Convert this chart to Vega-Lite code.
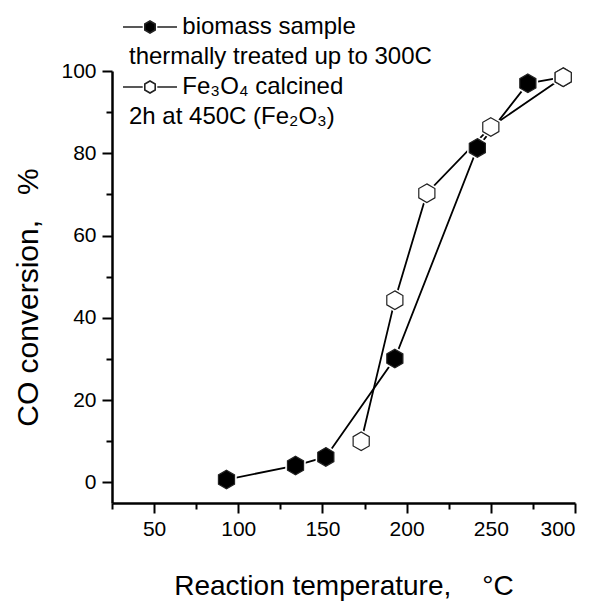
{
  "$schema": "https://vega.github.io/schema/vega-lite/v6.json",
  "width": 463,
  "height": 432,
  "autosize": {"type": "none"},
  "padding": {"left": 112, "top": 71, "right": 20, "bottom": 98},
  "background": "white",
  "data": {
    "values": [
      {"series": "biomass", "temp": 93, "conv": 0.7},
      {"series": "biomass", "temp": 134, "conv": 4.1},
      {"series": "biomass", "temp": 152, "conv": 6.2},
      {"series": "biomass", "temp": 193, "conv": 30.1},
      {"series": "biomass", "temp": 242, "conv": 81.3},
      {"series": "biomass", "temp": 272, "conv": 97.0},
      {"series": "biomass", "temp": 293, "conv": 98.5},
      {"series": "Fe3O4", "temp": 173, "conv": 10.0},
      {"series": "Fe3O4", "temp": 193, "conv": 44.3},
      {"series": "Fe3O4", "temp": 212, "conv": 70.3},
      {"series": "Fe3O4", "temp": 250, "conv": 86.4},
      {"series": "Fe3O4", "temp": 293, "conv": 98.5}
    ]
  },
  "layer": [
    {
      "mark": {"type": "line", "color": "black", "strokeWidth": 1.8},
      "encoding": {
        "x": {
          "field": "temp", "type": "quantitative",
          "scale": {"domain": [25, 300], "nice": false, "zero": false},
          "axis": {"orient": "bottom", "values": [50, 100, 150, 200, 250, 300], "title": "Reaction temperature,\u00a0\u00a0\u00a0\u00a0°C", "tickSize": 10, "labelPadding": 5, "titlePadding": 33}
        },
        "y": {
          "field": "conv", "type": "quantitative",
          "scale": {"domain": [-5, 100], "nice": false, "zero": false},
          "axis": {"orient": "left", "values": [0, 20, 40, 60, 80, 100], "title": "CO conversion,\u00a0\u00a0\u00a0%", "titleFontSize": 30, "titleY": 226, "tickSize": 10, "labelPadding": 6, "titlePadding": 17}
        },
        "detail": {"field": "series", "type": "nominal"}
      }
    },
    {
      "mark": {"type": "point", "shape": "M0,-1L0.866,-0.5L0.866,0.5L0,1L-0.866,0.5L-0.866,-0.5Z", "size": 560, "filled": true, "fill": "white", "opacity": 1, "strokeWidth": 0},
      "encoding": {
        "x": {"field": "temp", "type": "quantitative", "axis": {"orient": "bottom", "values": [25, 75, 125, 175, 225, 275], "labels": false, "domain": false, "title": null, "tickSize": 6}},
        "y": {"field": "conv", "type": "quantitative", "axis": {"orient": "left", "values": [10, 30, 50, 70, 90], "labels": false, "domain": false, "title": null, "tickSize": 6}}
      }
    },
    {
      "mark": {"type": "point", "shape": "M0,-1L0.866,-0.5L0.866,0.5L0,1L-0.866,0.5L-0.866,-0.5Z", "size": 346, "filled": true, "opacity": 1, "stroke": "#222", "strokeWidth": 1.2},
      "encoding": {
        "x": {"field": "temp", "type": "quantitative", "axis": null},
        "y": {"field": "conv", "type": "quantitative", "axis": null},
        "fill": {
          "field": "series", "type": "nominal",
          "scale": {"domain": ["biomass", "Fe3O4"], "range": ["black", "white"]},
          "legend": {
            "orient": "none", "legendX": 20, "legendY": -62, "title": null,
            "symbolType": "M-1.588,0H-0.43M0.43,0H1.588M0,-0.353L0.306,-0.176L0.306,0.176L0,0.353L-0.306,0.176L-0.306,-0.176Z",
            "symbolSize": 1156, "symbolStrokeColor": "#222", "symbolStrokeWidth": 1.6, "symbolOpacity": 1,
            "labelFont": "Liberation Sans", "labelFontSize": 24, "labelColor": "black",
            "labelOffset": -39, "labelLimit": 600, "labelBaseline": "middle",
            "rowPadding": 0, "padding": 0,
            "labelExpr": "datum.value == 'biomass' ? ['\u200b\u00a0\u00a0\u00a0\u00a0\u00a0\u00a0\u00a0\u00a0biomass sample', 'thermally treated up to 300C'] : ['\u200b\u00a0\u00a0\u00a0\u00a0\u00a0\u00a0\u00a0\u00a0Fe\u2083O\u2084 calcined', '2h at 450C (Fe\u2082O\u2083)']",
            "encode": {"labels": {"update": {"lineHeight": {"value": 30}}}}
          }
        }
      }
    }
  ],
  "resolve": {"axis": {"x": "independent", "y": "independent"}},
  "config": {
    "font": "Liberation Sans",
    "view": {"stroke": null},
    "axis": {
      "domainColor": "black", "domainWidth": 2.5, "tickColor": "black", "tickWidth": 2,
      "labelFont": "Liberation Sans", "labelFontSize": 21, "labelColor": "black",
      "titleFont": "Liberation Sans", "titleFontSize": 28, "titleFontWeight": "normal", "titleColor": "black",
      "grid": false
    }
  }
}
